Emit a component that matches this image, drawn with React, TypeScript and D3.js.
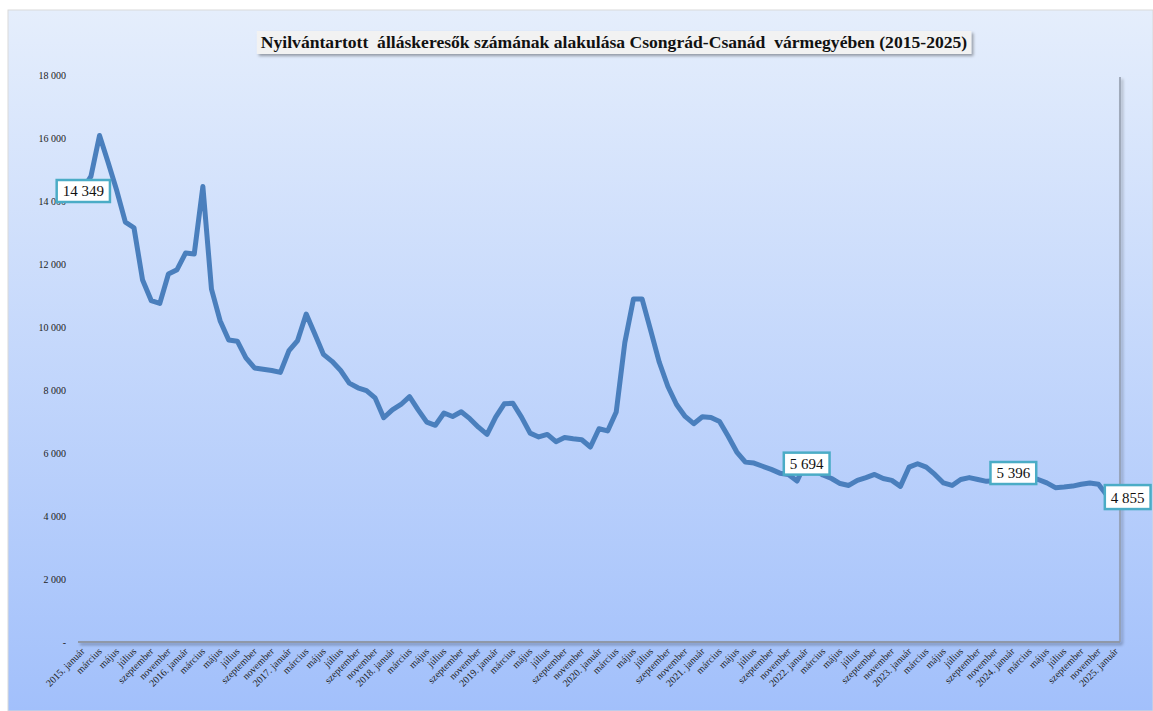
import React, { useEffect, useRef } from "react";
import * as d3 from "d3";

const TITLE = "Nyilvántartott  álláskeresők számának alakulása Csongrád-Csanád  vármegyében (2015-2025)";
const YEARS = [2015, 2016, 2017, 2018, 2019, 2020, 2021, 2022, 2023, 2024, 2025];
const MONTHS = ["január", "február", "március", "április", "május", "június", "július", "augusztus", "szeptember", "október", "november", "december"];
const Y_TICKS = [0, 2000, 4000, 6000, 8000, 10000, 12000, 14000, 16000, 18000];

// havi adatok 2015. január - 2025. január
const JOBSEEKERS = [
  14349, 14780, 16080, 15220, 14330, 13330, 13150, 11490, 10840, 10750, 11680, 11820,
  12350, 12320, 14460, 11200, 10200, 9590, 9550, 9020, 8700, 8660, 8620, 8560,
  9250, 9570, 10410, 9780, 9130, 8910, 8620, 8220, 8070, 7980, 7750, 7120,
  7370, 7540, 7790, 7370, 6980, 6880, 7270, 7160, 7310, 7090, 6820, 6590,
  7140, 7560, 7580, 7140, 6630, 6510, 6590, 6360, 6490, 6450, 6420, 6190,
  6770, 6700, 7300, 9510, 10890, 10890, 9890, 8880, 8110, 7540, 7160, 6930,
  7150, 7130, 7000, 6530, 6030, 5710, 5680, 5580, 5480, 5360, 5320, 5110,
  5694, 5480, 5300, 5190, 5030, 4970, 5130, 5220, 5320, 5190, 5130, 4940,
  5550, 5660, 5550, 5320, 5050, 4970, 5160, 5220, 5160, 5100, 5120, 5150,
  5396, 5300, 5220, 5160, 5050, 4900, 4920, 4950, 5010, 5050, 5010, 4650,
  4855,
];

// feliratozott pontok
const LABELLED = [0, 84, 108, 120];

const W = 1153;
const H = 711;
const margin = { left: 78, right: 33, top: 75, bottom: 69 };

const fmt = (v: number) => (v === 0 ? "-" : d3.format(",")(v).replace(/,/g, " "));

const App = () => {
  const ref = useRef<SVGSVGElement | null>(null);

  useEffect(() => {
    const categories: string[] = [];
    YEARS.forEach((yr) => {
      MONTHS.forEach((m, mi) => {
        if (yr === 2025 && mi > 0) return;
        categories.push(mi === 0 ? `${yr}. ${m}` : m);
      });
    });
    // a hónapnevek ismétlődnek, ezért indexet használunk kulcsnak
    const keys = categories.map((_, i) => String(i));

    const svg = d3.select(ref.current!);
    svg.selectAll("*").remove();

    const defs = svg.append("defs");
    const grad = defs.append("linearGradient").attr("id", "bg").attr("x1", 0).attr("y1", 0).attr("x2", 0).attr("y2", 1);
    grad.append("stop").attr("offset", "0%").attr("stop-color", "#e5eefc");
    grad.append("stop").attr("offset", "100%").attr("stop-color", "#a2c0fb");
    const shadow = defs.append("filter").attr("id", "shadow").attr("x", "-5%").attr("y", "-30%").attr("width", "110%").attr("height", "170%");
    shadow.append("feDropShadow").attr("dx", 2).attr("dy", 2).attr("stdDeviation", 1.5).attr("flood-color", "#000").attr("flood-opacity", 0.35);

    // háttér
    svg.append("rect").attr("x", 8).attr("y", 10).attr("width", W - 8).attr("height", H - 10)
      .attr("fill", "url(#bg)").attr("stroke", "#d9d9d9").attr("stroke-width", 1);

    const x0 = margin.left, x1 = W - margin.right;
    const y0 = H - margin.bottom, y1 = margin.top;

    const x = d3.scalePoint().domain(keys).range([x0, x1]).padding(0.5);
    const y = d3.scaleLinear().domain([0, 18000]).range([y0, y1]);

    // rajzterület keret (jobb és alsó szél árnyékkal)
    const frame = svg.append("g").attr("filter", "url(#shadow)");
    frame.append("line").attr("x1", x1).attr("x2", x1).attr("y1", y1 + 2).attr("y2", y0)
      .attr("stroke", "#8f98a8").attr("stroke-width", 1.5);
    frame.append("line").attr("x1", x0).attr("x2", x1).attr("y1", y0).attr("y2", y0)
      .attr("stroke", "#8f98a8").attr("stroke-width", 2);

    // y tengely
    const yAxis = svg.append("g").attr("transform", `translate(${x0},0)`)
      .call(d3.axisLeft(y).tickValues(Y_TICKS).tickSize(0).tickPadding(12).tickFormat((d) => fmt(d as number)));
    yAxis.select(".domain").remove();
    yAxis.selectAll("text").attr("font-family", "'Liberation Serif', serif").attr("font-size", 10).attr("fill", "#222");

    // x tengely feliratok, minden második hónap
    svg.append("g").selectAll("text")
      .data(categories.map((c, i) => ({ c, i })).filter((d) => d.i % 2 === 0))
      .join("text")
      .attr("transform", (d) => `translate(${x(String(d.i))! + 3},${y0 + 10}) rotate(-45)`)
      .attr("text-anchor", "end")
      .attr("font-family", "'Liberation Serif', serif")
      .attr("font-size", 10)
      .attr("fill", "#222")
      .text((d) => d.c);

    // vonal
    const line = d3.line<number>()
      .x((_, i) => x(String(i))!)
      .y((d) => y(d));
    svg.append("path")
      .datum(JOBSEEKERS)
      .attr("fill", "none")
      .attr("stroke", "#4a7fbd")
      .attr("stroke-width", 5)
      .attr("stroke-linejoin", "round")
      .attr("stroke-linecap", "round")
      .attr("d", line);

    // adatfeliratok
    const fs = 15;
    LABELLED.forEach((i) => {
      const v = JOBSEEKERS[i];
      const txt = fmt(v);
      const digits = txt.replace(/ /g, "").length;
      const bw = digits * fs * 0.5 + fs * 0.25 + 12;
      const bh = 22;
      const last = i === JOBSEEKERS.length - 1;
      const cx = x(String(i))! + (last ? 12 : 1);
      const cy = y(v) + (last ? 9 : 1);
      const g = svg.append("g");
      g.append("rect").attr("x", cx - bw / 2).attr("y", cy - bh / 2 - (last ? 2 : 0)).attr("width", bw).attr("height", bh + (last ? 2 : 0))
        .attr("fill", "#fff").attr("stroke", "#4bacc6").attr("stroke-width", 2.5);
      g.append("text").attr("x", cx).attr("y", cy + 5).attr("text-anchor", "middle")
        .attr("font-family", "'Liberation Serif', serif").attr("font-size", fs).attr("fill", "#111")
        .text(txt);
    });

    // cím
    const tg = svg.append("g");
    const tBox = tg.append("rect").attr("fill", "#f2f2f2").attr("filter", "url(#shadow)");
    const t = tg.append("text").attr("x", 614).attr("y", 48).attr("text-anchor", "middle")
      .attr("font-family", "'Liberation Serif', serif").attr("font-weight", "bold").attr("font-size", 17.6)
      .attr("fill", "#111").attr("xml:space", "preserve").style("white-space", "pre").text(TITLE);
    const bb = (t.node() as SVGTextElement).getBBox();
    tBox.attr("x", bb.x - 4).attr("y", 31).attr("width", bb.width + 8).attr("height", 23);
  }, []);

  return (
    <svg ref={ref} width={W} height={H} style={{ position: "absolute", left: 0, top: 0, display: "block" }} />
  );
};

export default App;
